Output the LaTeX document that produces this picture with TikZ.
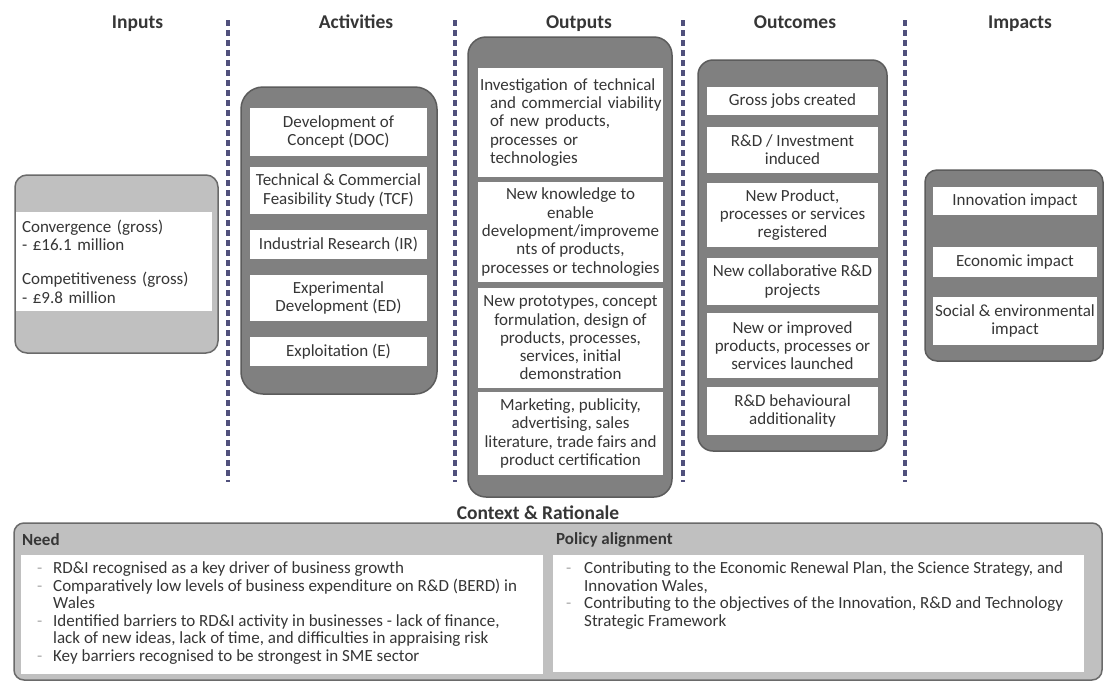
\documentclass[tikz,border=0pt]{standalone}
\usepackage{fontspec}
\setmainfont{Carlito}
\definecolor{txt}{HTML}{363636}
\definecolor{dk}{HTML}{808080}
\definecolor{dkb}{HTML}{5C5C5C}
\definecolor{lt}{HTML}{C0C0C0}
\definecolor{ltb}{HTML}{6A6A6A}
\definecolor{sepc}{HTML}{50507C}
\definecolor{bulc}{HTML}{A8A8A8}
\newcommand{\bodyf}{\fontsize{17}{18.3}\selectfont}
\newcommand{\listf}{\fontsize{17}{17.6}\selectfont}
\newcommand{\ttlf}{\fontsize{19.5}{22}\selectfont\bfseries}
\newcommand{\hdf}{\fontsize{17}{18}\selectfont\bfseries}
\newcommand{\lbul}{\makebox[16pt][l]{\textcolor{bulc}{-}}}
\newcommand{\lind}{\hspace*{16pt}}
\newcommand{\pbul}{\makebox[18pt][l]{\textcolor{bulc}{-}}}
\newcommand{\pind}{\hspace*{18pt}}
\tikzset{
  wb/.style={fill=white, inner sep=0pt, align=center, text=txt, font=\bodyf},
  obox/.style={fill=dk, draw=dkb, line width=1.5pt, rounded corners=15pt, inner sep=0pt},
  lbox/.style={fill=lt, draw=ltb, line width=1.5pt, rounded corners=12pt, inner sep=0pt},
  ttl/.style={font=\ttlf, text=txt, anchor=base, inner sep=0pt},
  hd/.style={font=\hdf, text=txt, anchor=west, inner sep=0pt},
  sepline/.style={draw=sepc, line width=3.2pt, dash pattern=on 6pt off 4pt},
  listtxt/.style={anchor=north west, inner sep=0pt, align=left, font=\listf, text=txt}
}
\begin{document}
\begin{tikzpicture}[x=1pt,y=-1pt]
\useasboundingbox (0,0) rectangle (1104,681);
\fill[white] (0,0) rectangle (1104,681);

% column titles
\node[ttl] (tin) at (137.5,28.5) {Inputs};
\node[ttl] (tact) at (356,28.5) {Activities};
\node[ttl] (tout) at (579,28.5) {Outputs};
\node[ttl] (toc) at (795,28.5) {Outcomes};
\node[ttl] (tim) at (1020,28.5) {Impacts};

% separators
\coordinate (s1a) at (228,20); \coordinate (s1b) at (228,482);
\coordinate (s2a) at (455,20); \coordinate (s2b) at (455,482);
\coordinate (s3a) at (683,20); \coordinate (s3b) at (683,482);
\coordinate (s4a) at (905,20); \coordinate (s4b) at (905,482);
\draw[sepline] (s1a) -- (s1b);
\draw[sepline] (s2a) -- (s2b);
\draw[sepline] (s3a) -- (s3b);
\draw[sepline] (s4a) -- (s4b);

% Inputs
\node[lbox, minimum width=203pt, minimum height=178pt] (inbox) at (116.5,264) {};
\node[wb, minimum width=196pt, minimum height=99pt, text width=184pt, inner xsep=6pt, align=left] (inw) at (114,261.5)
  {Convergence (gross)\\- £16.1 million\\[16pt]Competitiveness (gross)\\- £9.8 million};

% Activities
\node[obox, rounded corners=22pt, minimum width=196pt, minimum height=307pt] (actbox) at (339,240.5) {};
\node[wb, minimum width=177pt, minimum height=48pt] (a1) at (338.5,132) {Development of\\Concept (DOC)};
\node[wb, minimum width=177pt, minimum height=47pt] (a2) at (338.5,190.5) {Technical \& Commercial\\Feasibility Study (TCF)};
\node[wb, minimum width=177pt, minimum height=29pt] (a3) at (338.5,244.5) {Industrial Research (IR)};
\node[wb, minimum width=177pt, minimum height=46pt] (a4) at (338.5,298) {Experimental\\Development (ED)};
\node[wb, minimum width=177pt, minimum height=29pt] (a5) at (338.5,351.5) {Exploitation (E)};

% Outputs
\node[obox, rounded corners=18pt, minimum width=204pt, minimum height=460pt] (outbox) at (570,267) {};
\node[wb, minimum width=185pt, minimum height=109pt, text width=181pt, inner xsep=2pt, align=left] (o1) at (570.5,122.5)
  {\mbox{Investigation of technical}\\\mbox{\hspace*{10pt}and commercial viability}\\\mbox{\hspace*{10pt}of new products,}\\\mbox{\hspace*{10pt}processes or}\\\mbox{\hspace*{10pt}technologies}};
\node[wb, minimum width=185pt, minimum height=100pt] (o2) at (570.5,232) {New knowledge to\\enable\\development/improveme\\nts of products,\\processes or technologies};
\node[wb, minimum width=185pt, minimum height=100pt] (o3) at (570.5,338) {New prototypes, concept\\formulation, design of\\products, processes,\\services, initial\\demonstration};
\node[wb, minimum width=185pt, minimum height=83pt] (o4) at (570.5,433.5) {Marketing, publicity,\\advertising, sales\\literature, trade fairs and\\product certification};

% Outcomes
\node[obox, minimum width=189pt, minimum height=391pt] (ocbox) at (792.5,255.5) {};
\node[wb, minimum width=171pt, minimum height=28pt] (c1) at (792.5,101) {Gross jobs created};
\node[wb, minimum width=171pt, minimum height=46pt] (c2) at (792.5,150) {R\&D / Investment\\induced};
\node[wb, minimum width=171pt, minimum height=64pt] (c3) at (792.5,215) {New Product,\\processes or services\\registered};
\node[wb, minimum width=171pt, minimum height=47pt] (c4) at (792.5,281.5) {New collaborative R\&D\\projects};
\node[wb, minimum width=171pt, minimum height=65pt] (c5) at (792.5,345.5) {New or improved\\products, processes or\\services launched};
\node[wb, minimum width=171pt, minimum height=48pt] (c6) at (792.5,411) {R\&D behavioural\\additionality};

% Impacts
\node[obox, rounded corners=12pt, minimum width=178pt, minimum height=191pt] (imbox) at (1014,265.5) {};
\node[wb, minimum width=164pt, minimum height=28pt] (i1) at (1015,201) {Innovation impact};
\node[wb, minimum width=164pt, minimum height=30pt] (i2) at (1015,262) {Economic impact};
\node[wb, minimum width=164pt, minimum height=48pt] (i3) at (1015,321) {Social \& environmental\\impact};

% Context & Rationale
\node[ttl] (tctx) at (538,519.5) {Context \& Rationale};
\node[lbox, rounded corners=10pt, minimum width=1088pt, minimum height=157pt] (ctxbox) at (558,601.5) {};
\node[hd] (hneed) at (22,540) {Need};
\node[hd] (hpol) at (556,540) {Policy alignment};
\node[wb, minimum width=522pt, minimum height=119pt] (needw) at (282,614.5) {};
\node[wb, minimum width=531pt, minimum height=117pt] (polw) at (818.5,613.5) {};
\node[listtxt] (needtxt) at (37,561.5) {\lbul RD\&I recognised as a key driver of business growth\\
\lbul Comparatively low levels of business expenditure on R\&D (BERD) in\\
\lind Wales\\
\lbul Identified barriers to RD\&I activity in businesses - lack of finance,\\
\lind lack of new ideas, lack of time, and difficulties in appraising risk\\
\lbul Key barriers recognised to be strongest in SME sector};
\node[listtxt] (poltxt) at (566,561.5) {\pbul Contributing to the Economic Renewal Plan, the Science Strategy, and\\
\pind Innovation Wales,\\
\pbul Contributing to the objectives of the Innovation, R\&D and Technology\\
\pind Strategic Framework};
\end{tikzpicture}
\end{document}
